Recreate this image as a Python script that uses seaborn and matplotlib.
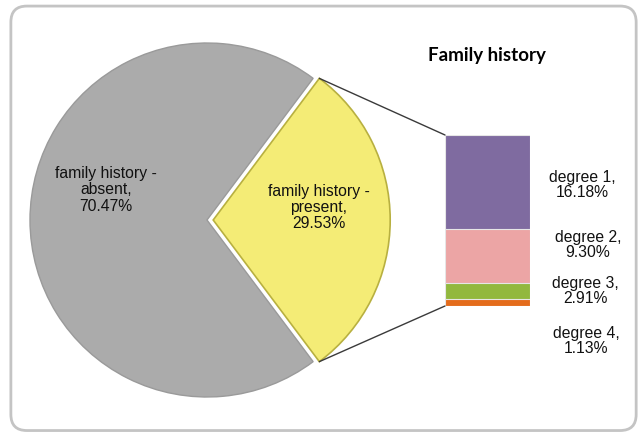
import matplotlib
matplotlib.use("Agg")
import matplotlib.pyplot as plt
import seaborn as sns
import pandas as pd
import numpy as np
from matplotlib.patches import FancyBboxPatch, ConnectionPatch

sns.set_theme(style="white")
plt.rcParams['font.family'] = ['Liberation Sans', 'DejaVu Sans']

# data
pie_labels = ["family history -\nabsent,", "family history -\npresent,"]
pie_values = [70.47, 29.53]
pie_colors = ["#ababab", "#f4ec76"]

degree_labels = ["degree 1", "degree 2", "degree 3", "degree 4"]
degree_values = [16.18, 9.30, 2.91, 1.13]
degree_colors = ["#7f6ba0", "#eca5a5", "#92b83e", "#e46c1c"]

# label spots (pie data coords / bar data coords)
pie_label_pos = [(-0.57, 0.17), (0.63, 0.07)]
degree_label_pos = [(1.11, 20.9), (1.18, 10.5), (1.15, 2.6), (1.16, -6.0)]

fig = plt.figure(figsize=(6.4, 4.34), dpi=100)
fig.patch.set_facecolor("white")

# rounded frame
frame = FancyBboxPatch((0.017, 0.008), 0.977, 0.978,
                       boxstyle="round,pad=0,rounding_size=0.025",
                       mutation_aspect=640 / 434,
                       transform=fig.transFigure, facecolor="white",
                       edgecolor="#c4c4c4", linewidth=2, zorder=0)
fig.add_artist(frame)

# pie
explode_off = 0.035
ax_pie = fig.add_axes([30 / 640, 37 / 434, 354 / 640, 354 / 434])
start = 360 * pie_values[1] / 100 / 2
wedges, _ = ax_pie.pie(pie_values, colors=pie_colors, startangle=start,
                       explode=[0, explode_off], radius=1,
                       wedgeprops=dict(edgecolor="white", linewidth=2.5))
wedges[1].set_edgecolor("#b8b040")
wedges[1].set_linewidth(1.2)
wedges[0].set_edgecolor("#9a9a9a")
wedges[0].set_linewidth(1.0)
for w in wedges:
    w.set_clip_on(False)
ax_pie.set_xlim(-1, 1)
ax_pie.set_ylim(-1, 1)
ax_pie.axis("off")

for lab, val, (px, py) in zip(pie_labels, pie_values, pie_label_pos):
    ax_pie.text(px, py, f"{lab}\n{val:.2f}%", ha="center", va="center",
                fontsize=11.3, color="#111111", linespacing=1.1)

# stacked bar (drawn back to front with cumulative heights)
tops = np.cumsum(degree_values[::-1])[::-1]
bar_df = pd.DataFrame({"grp": ["x"] * len(tops), "top": tops,
                       "degree": degree_labels, "color": degree_colors})
ax_bar = fig.add_axes([445 / 640, 128 / 434, 85 / 640, 171 / 434])
for _, row in bar_df.iterrows():
    sns.barplot(data=row.to_frame().T, x="grp", y="top", color=row["color"],
                saturation=1, width=1, edgecolor="#e6e6e6", linewidth=0.8,
                ax=ax_bar)
ax_bar.set_xlim(-0.5, 0.5)
ax_bar.set_ylim(0, sum(degree_values))
ax_bar.axis("off")

for lab, val, (lx, ly) in zip(degree_labels, degree_values, degree_label_pos):
    ax_bar.text(lx, ly, f"{lab},\n{val:.2f}%", ha="center", va="center",
                fontsize=11.3, color="#111111", linespacing=1.0,
                clip_on=False)

# connector lines
th = np.deg2rad(start)
for sgn, yb in [(1, sum(degree_values)), (-1, 0)]:
    con = ConnectionPatch(xyA=(explode_off + np.cos(th), sgn * np.sin(th)),
                          coordsA=ax_pie.transData,
                          xyB=(-0.5, yb), coordsB=ax_bar.transData,
                          color="#3a3a3a", linewidth=1)
    fig.add_artist(con)

fig.text(487 / 640, 1 - 55 / 434, "Family history", ha="center", va="center",
         fontsize=13.5, fontweight="bold", color="black",
         family=["Lato", "DejaVu Sans"])

fig.savefig("out.png", dpi=100)
